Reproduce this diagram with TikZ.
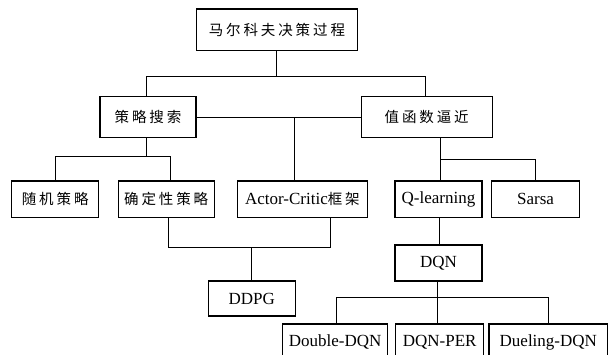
\documentclass[tikz,border=0pt]{standalone}
\usepackage{fontspec}
\setmainfont{Liberation Serif}
\newfontfamily\cjkfont[LetterSpace=20]{Noto Sans CJK SC}
\newcommand{\zh}[1]{{\fontsize{14.5}{17}\selectfont\cjkfont #1}}
\begin{document}
\begin{tikzpicture}[x=1pt,y=-1pt,
  box/.style={draw=black,line width=1.1pt,rectangle,inner sep=0pt,align=center,
    font=\fontsize{17}{20}\selectfont},
  link/.style={draw=black,line width=1pt}]
\clip (0,0) rectangle (615,355);
\fill[white] (0,0) rectangle (615,355);
% nodes
\node[box,minimum width=161.7pt,minimum height=41.7pt] (mdp) at (276.9,29.85) {\zh{马尔科夫决策过程}};
\node[box,minimum width=96pt,minimum height=41pt] (ps) at (148,117.2) {\zh{策略搜索}};
\node[box,minimum width=130.7pt,minimum height=41pt] (vfa) at (426.7,117.2) {\zh{值函数逼近}};
\node[box,minimum width=87pt,minimum height=36.3pt] (rand) at (55.2,199.2) {\zh{随机策略}};
\node[box,minimum width=95.7pt,minimum height=36.3pt] (det) at (166.2,199.2) {\zh{确定性策略}};
\node[box,minimum width=130.7pt,minimum height=36.3pt] (ac) at (302.4,199.2) {Actor-Critic\zh{框架}};
\node[box,minimum width=87pt,minimum height=36.3pt] (ql) at (438.5,199.2) {Q-learning};
\node[box,minimum width=87.6pt,minimum height=36.3pt] (sarsa) at (535.5,199.2) {Sarsa};
\node[box,minimum width=86.7pt,minimum height=35pt] (ddpg) at (251.7,298.5) {DDPG};
\node[box,minimum width=87pt,minimum height=36pt] (dqn) at (438.5,263) {DQN};
\node[box,minimum width=105pt,minimum height=36pt] (dd) at (335.2,342) {Double-DQN};
\node[box,minimum width=88pt,minimum height=36pt] (per) at (439.7,342) {DQN-PER};
\node[box,minimum width=118.7pt,minimum height=36pt] (duel) at (548.3,342) {Dueling-DQN};
% junction coordinates
\coordinate (j1) at (276.9,76.7);
\coordinate (j2) at (146.7,156.7);
\coordinate (j3) at (440,160);
\coordinate (j4) at (251.7,247.3);
\coordinate (j5) at (437,297.7);
% connectors
\draw[link] (mdp.south) -- (j1);
\draw[link] ([xshift=-1.3pt]ps.north) |- (j1) -| ([xshift=-1pt]vfa.north);
\draw[link] (ps.east) -- (vfa.west);
\draw[link] ([xshift=-7.7pt]ac.north) -- ([xshift=-7.7pt]ac.north |- ps.east);
\draw[link] ([xshift=-1.3pt]ps.south) -- (j2);
\draw[link] (rand.north) |- (j2) -| ([xshift=3.8pt]det.north);
\draw[link] ([xshift=13.3pt]vfa.south) -- ([xshift=1.5pt]ql.north);
\draw[link] (j3) -| (sarsa.north);
\draw[link] ([xshift=2pt]det.south) |- (j4) -| ([xshift=28.3pt]ac.south);
\draw[link] (j4) -- (ddpg.north);
\draw[link] ([xshift=0.5pt]ql.south) -- ([xshift=0.5pt]dqn.north);
\draw[link] ([xshift=-1.5pt]dqn.south) -- ([xshift=-2.7pt]per.north);
\draw[link] ([xshift=1.5pt]dd.north) |- (j5) -| ([xshift=0.4pt]duel.north);
\end{tikzpicture}
\end{document}
